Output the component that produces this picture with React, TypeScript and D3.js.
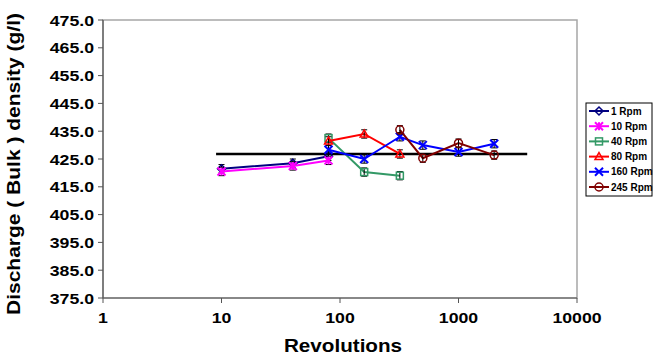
import React from 'react';
import * as d3 from 'd3';

const W = 656;
const H = 356;

// revolutions per series
const revs1 = [10, 40, 80];
const revs10 = [10, 40, 80];
const revs40 = [80, 160, 320];
const revs80 = [80, 160, 320];
const revs160 = [80, 160, 320, 500, 1000, 2000];
const revs245 = [320, 500, 1000, 2000];

// bulk density values (g/l)
const dens1 = [421.5, 423.5, 426.0];
const dens10 = [420.5, 422.5, 424.5];
const dens40 = [432.5, 420.3, 419.0];
const dens80 = [431.5, 434.0, 426.8];
const dens160 = [428.3, 425.0, 433.0, 430.0, 427.5, 430.5];
const dens245 = [435.5, 425.3, 430.7, 426.4];
const errs = 1.5;

const refLine = { from: 9, to: 3800, value: 426.8 };

const yTicks = [375, 385, 395, 405, 415, 425, 435, 445, 455, 465, 475];
const xTicks = [1, 10, 100, 1000, 10000];

type Series = { name: string; color: string; marker: string; x: number[]; y: number[] };
const series: Series[] = [
  { name: '1 Rpm', color: '#000080', marker: 'diamond', x: revs1, y: dens1 },
  { name: '10 Rpm', color: '#FF00FF', marker: 'star', x: revs10, y: dens10 },
  { name: '40 Rpm', color: '#339966', marker: 'square', x: revs40, y: dens40 },
  { name: '80 Rpm', color: '#FF0000', marker: 'triangle', x: revs80, y: dens80 },
  { name: '160 Rpm', color: '#0000FF', marker: 'cross', x: revs160, y: dens160 },
  { name: '245 Rpm', color: '#800000', marker: 'circle', x: revs245, y: dens245 },
];

const FONT = 'Arial, "Liberation Sans", Helvetica, sans-serif';

function Marker({ type, cx, cy, color }: { type: string; cx: number; cy: number; color: string }) {
  const s = 4;
  switch (type) {
    case 'diamond':
      return <path d={`M${cx},${cy - s}L${cx + s},${cy}L${cx},${cy + s}L${cx - s},${cy}Z`} fill="none" stroke={color} strokeWidth={1.5} />;
    case 'star':
      return (
        <g stroke={color} strokeWidth={2}>
          <path d={`M${cx - s},${cy - s}L${cx + s},${cy + s}M${cx - s},${cy + s}L${cx + s},${cy - s}M${cx},${cy - s}L${cx},${cy + s}`} />
        </g>
      );
    case 'square':
      return <rect x={cx - 3.5} y={cy - 3.5} width={7} height={7} fill="none" stroke={color} strokeWidth={1.5} />;
    case 'triangle':
      return <path d={`M${cx},${cy - s}L${cx + s},${cy + 3}L${cx - s},${cy + 3}Z`} fill="none" stroke={color} strokeWidth={1.5} />;
    case 'cross':
      return <path d={`M${cx - s},${cy - s}L${cx + s},${cy + s}M${cx - s},${cy + s}L${cx + s},${cy - s}`} stroke={color} strokeWidth={2} />;
    default:
      return <circle cx={cx} cy={cy} r={4} fill="none" stroke={color} strokeWidth={1.5} />;
  }
}

export default function App() {
  const left = 103;
  const right = 577;
  const top = 20;
  const bottom = 298;

  const x = d3.scaleLog().domain([1, 10000]).range([left, right]);
  const y = d3.scaleLinear().domain([375, 475]).range([bottom, top]);
  const line = d3
    .line<[number, number]>()
    .x((d) => x(d[0]))
    .y((d) => y(d[1]));

  const legX = 586;
  const legY = 103;
  const legStep = 15.2;

  return (
    <div style={{ position: 'fixed', left: 0, top: 0 }}>
      <svg width={W} height={H} style={{ display: 'block', background: '#fff' }} fontFamily={FONT}>
        {/* plot frame */}
        <rect x={left} y={top} width={right - left} height={bottom - top} fill="none" stroke="#a6a6a6" strokeWidth={1.5} />
        <line x1={left} x2={left} y1={top} y2={bottom} stroke="#555" strokeWidth={1.2} />
        <line x1={left} x2={right} y1={bottom} y2={bottom} stroke="#555" strokeWidth={1.2} />

        {/* y axis */}
        {yTicks.map((t) => (
          <g key={t}>
            <line x1={left - 5} x2={left} y1={y(t)} y2={y(t)} stroke="#555" />
            <text
              transform={`translate(94,${y(t)}) scale(1.15,1)`}
              dy="0.36em"
              textAnchor="end"
              fontSize={15.4}
              fontWeight="bold"
            >
              {t.toFixed(1)}
            </text>
          </g>
        ))}
        {/* x axis */}
        {xTicks.map((t) => (
          <g key={t}>
            <line x1={x(t)} x2={x(t)} y1={bottom} y2={bottom + 5} stroke="#555" />
            <text
              transform={`translate(${x(t)},323) scale(1.15,1)`}
              textAnchor="middle"
              fontSize={15.4}
              fontWeight="bold"
            >
              {t}
            </text>
          </g>
        ))}
        <text
          transform="translate(343,352) scale(1.18,1)"
          textAnchor="middle"
          fontSize={17.5}
          fontWeight="bold"
        >
          Revolutions
        </text>
        <text
          transform="translate(20,164) rotate(-90) scale(1.2,1)"
          textAnchor="middle"
          fontSize={17.5}
          fontWeight="bold"
        >
          Discharge ( Bulk ) density (g/l)
        </text>

        {/* reference line */}
        <line
          x1={x(refLine.from)}
          x2={x(refLine.to)}
          y1={y(refLine.value)}
          y2={y(refLine.value)}
          stroke="#000"
          strokeWidth={2.5}
        />

        {/* series */}
        {series.map((s) => {
          const pts = s.x.map((v, i) => [v, s.y[i]] as [number, number]);
          return (
            <g key={s.name}>
              <path d={line(pts) || ''} fill="none" stroke={s.color} strokeWidth={2} />
              {pts.map((p, i) => (
                <g key={i} stroke="#000" strokeWidth={1}>
                  <line x1={x(p[0])} x2={x(p[0])} y1={y(p[1] - errs)} y2={y(p[1] + errs)} />
                  <line x1={x(p[0]) - 3} x2={x(p[0]) + 3} y1={y(p[1] - errs)} y2={y(p[1] - errs)} />
                  <line x1={x(p[0]) - 3} x2={x(p[0]) + 3} y1={y(p[1] + errs)} y2={y(p[1] + errs)} />
                </g>
              ))}
              {pts.map((p, i) => (
                <Marker key={'m' + i} type={s.marker} cx={x(p[0])} cy={y(p[1])} color={s.color} />
              ))}
            </g>
          );
        })}

        {/* legend */}
        <rect x={legX} y={legY} width={66} height={93} fill="#fff" stroke="#000" strokeWidth={1} />
        {series.map((s, i) => {
          const cy = legY + 8 + i * legStep;
          return (
            <g key={s.name}>
              <line x1={legX + 3} x2={legX + 23} y1={cy} y2={cy} stroke={s.color} strokeWidth={2} />
              <Marker type={s.marker} cx={legX + 13} cy={cy} color={s.color} />
              <text x={legX + 25} y={cy} dy="0.36em" fontSize={10} fontWeight="bold">
                {s.name}
              </text>
            </g>
          );
        })}
      </svg>
    </div>
  );
}
